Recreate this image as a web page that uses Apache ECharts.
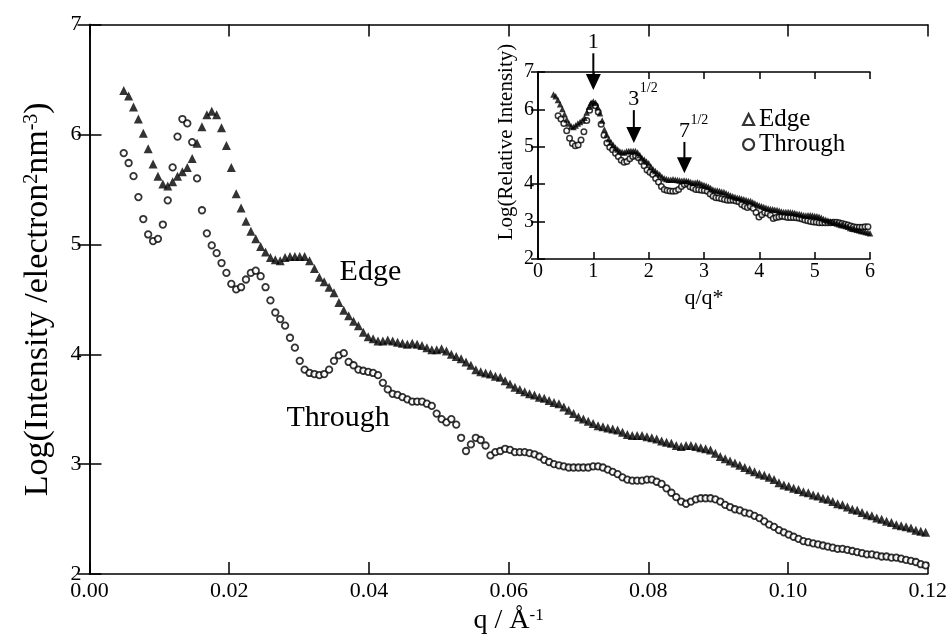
<!DOCTYPE html>
<html><head><meta charset="utf-8">
<script src="https://cdn.jsdelivr.net/npm/echarts@6/dist/echarts.min.js"></script>
<style>html,body{margin:0;padding:0;background:#fff}#c{width:950px;height:640px}</style>
</head><body><div id="c"></div>
<script>
// scattering vector q (1/Angstrom), shared by both series
const q = [
0.0049,0.0056,0.0063,0.0070,0.0077,0.0084,0.0091,0.0098,0.0105,0.0112,
0.0119,0.0126,0.0133,0.0140,0.0147,0.0154,0.0161,0.0168,0.0175,0.0182,
0.0189,0.0196,0.0203,0.0210,0.0217,0.0224,0.0231,0.0238,0.0245,0.0252,
0.0259,0.0266,0.0273,0.0280,0.0287,0.0294,0.0301,0.0308,0.0315,0.0322,
0.0329,0.0336,0.0343,0.0350,0.0357,0.0364,0.0371,0.0378,0.0385,0.0392,
0.0399,0.0406,0.0413,0.0420,0.0427,0.0434,0.0441,0.0448,0.0455,0.0462,
0.0469,0.0476,0.0483,0.0490,0.0497,0.0504,0.0511,0.0518,0.0525,0.0532,
0.0539,0.0546,0.0553,0.0560,0.0567,0.0574,0.0581,0.0588,0.0595,0.0602,
0.0609,0.0616,0.0623,0.0630,0.0637,0.0644,0.0651,0.0658,0.0665,0.0672,
0.0679,0.0686,0.0693,0.0700,0.0707,0.0714,0.0721,0.0728,0.0735,0.0742,
0.0749,0.0756,0.0763,0.0770,0.0777,0.0784,0.0791,0.0798,0.0805,0.0812,
0.0819,0.0826,0.0833,0.0840,0.0847,0.0854,0.0861,0.0868,0.0875,0.0882,
0.0889,0.0896,0.0903,0.0910,0.0917,0.0924,0.0931,0.0938,0.0945,0.0952,
0.0959,0.0966,0.0973,0.0980,0.0987,0.0994,0.1001,0.1008,0.1015,0.1022,
0.1029,0.1036,0.1043,0.1050,0.1057,0.1064,0.1071,0.1078,0.1085,0.1092,
0.1099,0.1106,0.1113,0.1120,0.1127,0.1134,0.1141,0.1148,0.1155,0.1162,
0.1169,0.1176,0.1183,0.1190,0.1197];

// Log(Intensity) - Edge
const edge = [
6.40,6.35,6.25,6.14,6.01,5.87,5.73,5.62,5.55,5.53,
5.57,5.62,5.66,5.70,5.78,5.92,6.07,6.18,6.21,6.18,
6.06,5.90,5.70,5.46,5.33,5.21,5.12,5.05,4.98,4.93,
4.88,4.86,4.85,4.88,4.89,4.89,4.89,4.89,4.85,4.78,
4.70,4.66,4.61,4.56,4.47,4.40,4.35,4.30,4.26,4.20,
4.16,4.14,4.12,4.12,4.13,4.12,4.11,4.10,4.09,4.10,
4.09,4.08,4.06,4.04,4.04,4.05,4.03,4.00,3.98,3.96,
3.93,3.90,3.86,3.84,3.83,3.82,3.80,3.79,3.76,3.73,
3.70,3.68,3.66,3.64,3.63,3.61,3.60,3.58,3.56,3.55,
3.52,3.49,3.46,3.43,3.41,3.39,3.37,3.35,3.34,3.33,
3.32,3.31,3.29,3.27,3.26,3.26,3.26,3.25,3.24,3.23,
3.21,3.20,3.19,3.17,3.16,3.17,3.17,3.16,3.15,3.14,
3.13,3.10,3.07,3.05,3.03,3.01,2.99,2.97,2.95,2.93,
2.91,2.90,2.88,2.86,2.83,2.81,2.80,2.78,2.77,2.75,
2.74,2.72,2.71,2.69,2.68,2.66,2.64,2.63,2.61,2.59,
2.58,2.56,2.54,2.53,2.51,2.50,2.48,2.47,2.45,2.44,
2.43,2.42,2.40,2.39,2.38];

// Log(Intensity) - Through
const through = [
5.83,5.74,5.62,5.43,5.23,5.09,5.03,5.05,5.18,5.40,
5.70,5.98,6.14,6.10,5.93,5.60,5.31,5.10,4.99,4.92,
4.83,4.74,4.64,4.59,4.61,4.68,4.74,4.76,4.71,4.61,
4.49,4.38,4.32,4.26,4.15,4.06,3.94,3.86,3.83,3.82,
3.81,3.82,3.86,3.94,3.99,4.01,3.93,3.90,3.86,3.85,
3.84,3.83,3.81,3.74,3.68,3.64,3.63,3.61,3.59,3.57,
3.57,3.57,3.55,3.53,3.46,3.41,3.38,3.41,3.36,3.24,
3.12,3.18,3.24,3.22,3.17,3.08,3.11,3.12,3.14,3.13,
3.11,3.11,3.11,3.10,3.09,3.07,3.04,3.02,3.00,2.99,
2.98,2.97,2.97,2.97,2.97,2.97,2.98,2.98,2.97,2.95,
2.93,2.91,2.88,2.86,2.85,2.85,2.85,2.86,2.86,2.84,
2.82,2.78,2.74,2.70,2.66,2.64,2.66,2.68,2.69,2.69,
2.69,2.68,2.66,2.63,2.61,2.59,2.58,2.56,2.55,2.53,
2.51,2.48,2.45,2.43,2.40,2.38,2.36,2.34,2.32,2.30,
2.29,2.28,2.27,2.26,2.25,2.24,2.23,2.23,2.22,2.21,
2.20,2.19,2.18,2.18,2.17,2.16,2.16,2.15,2.15,2.14,
2.13,2.12,2.11,2.09,2.08];

// peak positions q* used for the inset's q/q* scale
const qStarEdge = 0.0175;
const qStarThrough = 0.0135;

// inset arrows: position (q/q*), tip and tail (Log rel. intensity), labels
const arrowPos = [1, 1.732, 2.646];
const arrowTip = [6.52, 5.10, 4.29];
const arrowTail = [7.50, 5.98, 5.13];
const arrowMain = ['1', '3', '7'];
const arrowSup = ['', '1/2', '1/2'];

const F = '"Liberation Serif","Times New Roman",serif';
const K = '#000';

const mainData = (vals) => q.map((x, i) => [x, vals[i]]);
const insetData = (vals, qs) => q.map((x, i) => [x / qs, vals[i]]).filter(p => p[0] <= 6);

const tickCommon = (len) => ({ show: true, inside: true, length: len, lineStyle: { color: K, width: 1.5 } });
const lineCommon = { show: true, lineStyle: { color: K, width: 1.6 } };
const supRich = (fs) => ({ sup: { fontFamily: F, fontSize: fs, verticalAlign: 'top', color: K } });

const option = {
  animation: false,
  backgroundColor: '#fff',
  grid: [
    { left: 89.5, top: 24.5, width: 839.5, height: 551 },
    { left: 538, top: 72, width: 332, height: 187 }
  ],
  xAxis: [
    { type: 'value', gridIndex: 0, min: 0, max: 0.12, interval: 0.02,
      axisLine: lineCommon, axisTick: tickCommon(12), splitLine: { show: false },
      axisLabel: { fontFamily: F, fontSize: 22, color: K, margin: 6, formatter: v => v.toFixed(2) },
      name: 'q / Å{sup|-1}', nameLocation: 'middle', nameGap: 30,
      nameTextStyle: { fontFamily: F, fontSize: 28, color: K, rich: supRich(17) } },
    { type: 'value', gridIndex: 0, position: 'top', min: 0, max: 0.12, interval: 0.02,
      axisLine: lineCommon, axisTick: tickCommon(12), splitLine: { show: false }, axisLabel: { show: false } },
    { type: 'value', gridIndex: 1, min: 0, max: 6, interval: 1,
      axisLine: lineCommon, axisTick: tickCommon(7), splitLine: { show: false },
      axisLabel: { fontFamily: F, fontSize: 20, color: K, margin: 3 },
      name: 'q/q*', nameLocation: 'middle', nameGap: 28,
      nameTextStyle: { fontFamily: F, fontSize: 22, color: K } },
    { type: 'value', gridIndex: 1, position: 'top', min: 0, max: 6, interval: 1,
      axisLine: lineCommon, axisTick: tickCommon(7), splitLine: { show: false }, axisLabel: { show: false } }
  ],
  yAxis: [
    { type: 'value', gridIndex: 0, min: 2, max: 7, interval: 1,
      axisLine: lineCommon, axisTick: tickCommon(12), splitLine: { show: false },
      axisLabel: { fontFamily: F, fontSize: 22, color: K, margin: 8, padding: [0, 0, 6, 0] },
      name: 'Log(Intensity /electron{sup|2}nm{sup|-3})', nameLocation: 'middle', nameGap: 34,
      nameTextStyle: { fontFamily: F, fontSize: 34, color: K, rich: supRich(20) } },
    { type: 'value', gridIndex: 0, position: 'right', min: 2, max: 7, interval: 1,
      axisLine: lineCommon, axisTick: tickCommon(12), splitLine: { show: false }, axisLabel: { show: false } },
    { type: 'value', gridIndex: 1, min: 2, max: 7, interval: 1,
      axisLine: lineCommon, axisTick: tickCommon(7), splitLine: { show: false },
      axisLabel: { fontFamily: F, fontSize: 20, color: K, margin: 4 } },
    { type: 'value', gridIndex: 1, position: 'right', min: 2, max: 7, interval: 1,
      axisLine: lineCommon, axisTick: tickCommon(7), splitLine: { show: false }, axisLabel: { show: false } }
  ],
  legend: {
    left: 737, top: 102, orient: 'vertical', itemWidth: 11, itemHeight: 11, itemGap: 0,
    selectedMode: false,
    textStyle: { fontFamily: F, fontSize: 25, color: K, lineHeight: 19 },
    data: [
      { name: 'Edge', icon: 'triangle', itemStyle: { color: '#fff', borderColor: K, borderWidth: 2.2 } },
      { name: 'Through', icon: 'circle', itemStyle: { color: '#fff', borderColor: K, borderWidth: 2.2 } }
    ]
  },
  series: [
    { type: 'scatter', name: 'Edge', xAxisIndex: 0, yAxisIndex: 0, symbol: 'triangle', symbolSize: 9,
      itemStyle: { color: K }, data: mainData(edge), silent: true },
    { type: 'scatter', name: 'Through', xAxisIndex: 0, yAxisIndex: 0, symbol: 'circle', symbolSize: 6.5,
      itemStyle: { color: '#fff', borderColor: K, borderWidth: 1.8 }, data: mainData(through), silent: true },
    { type: 'scatter', name: 'Through', xAxisIndex: 2, yAxisIndex: 2, symbol: 'circle', symbolSize: 5.5,
      itemStyle: { color: '#fff', borderColor: K, borderWidth: 1.5 }, data: insetData(through, qStarThrough), silent: true, clip: true },
    { type: 'scatter', name: 'Edge', xAxisIndex: 2, yAxisIndex: 2, symbol: 'triangle', symbolSize: 6.5,
      itemStyle: { color: K }, data: insetData(edge, qStarEdge), silent: true, clip: true }
  ]
};

const chart = echarts.init(document.getElementById('c'), null, { renderer: 'canvas' });
chart.setOption(option);

const P = (g, p) => chart.convertToPixel({ gridIndex: g }, p);
const graphics = [];

// main-plot series labels
const pe = P(0, [0.0358, 4.75]);
graphics.push({ type: 'text', x: pe[0], y: pe[1], style: { text: 'Edge', fontFamily: F, fontSize: 30, fill: K, textAlign: 'left', textVerticalAlign: 'middle' } });
const pt = P(0, [0.0282, 3.42]);
graphics.push({ type: 'text', x: pt[0], y: pt[1], style: { text: 'Through', fontFamily: F, fontSize: 30, fill: K, textAlign: 'left', textVerticalAlign: 'middle' } });

// inset y-axis title
graphics.push({ type: 'text', x: 506, y: 142, rotation: Math.PI / 2,
  style: { text: 'Log(Relative Intensity)', fontFamily: F, fontSize: 21, fill: K, textAlign: 'center', textVerticalAlign: 'middle' } });

// arrows
for (let i = 0; i < arrowPos.length; i++) {
  const a = P(1, [arrowPos[i], arrowTail[i]]);
  const b = P(1, [arrowPos[i], arrowTip[i]]);
  const x = a[0], yT = a[1], yP = b[1];
  graphics.push({ type: 'line', shape: { x1: x, y1: yT, x2: x, y2: yP - 12 }, style: { stroke: K, lineWidth: 2 } });
  graphics.push({ type: 'polygon', shape: { points: [[x - 7.5, yP - 16], [x + 7.5, yP - 16], [x, yP]] }, style: { fill: K } });
  graphics.push({ type: 'text', x: x, y: yT - 11, style: { text: arrowMain[i], fontFamily: F, fontSize: 22, fill: K, textAlign: 'center', textVerticalAlign: 'middle' } });
  if (arrowSup[i]) {
    graphics.push({ type: 'text', x: x + 6, y: yT - 22, style: { text: arrowSup[i], fontFamily: F, fontSize: 14, fill: K, textAlign: 'left', textVerticalAlign: 'middle' } });
  }
}
chart.setOption({ graphic: graphics });
</script>
</body></html>
